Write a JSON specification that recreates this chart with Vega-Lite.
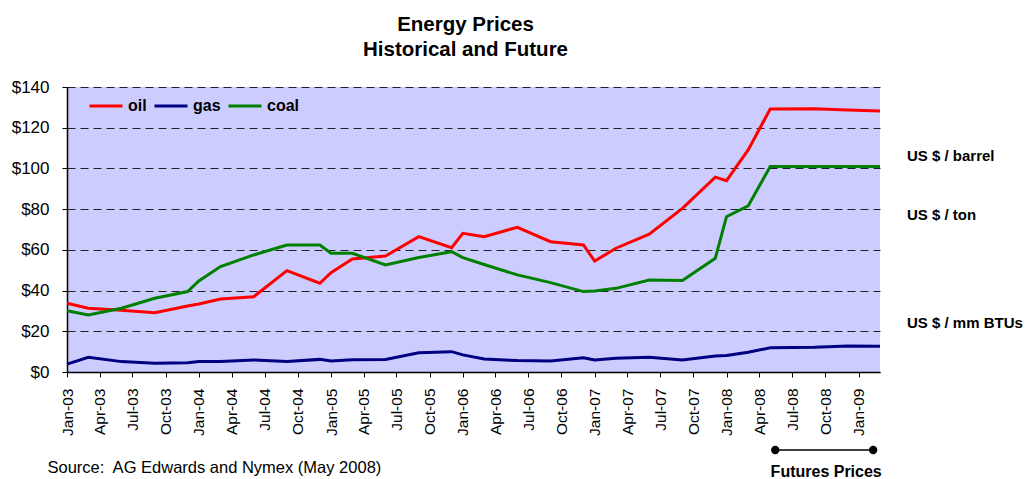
{
  "$schema": "https://vega.github.io/schema/vega-lite/v6.json",
  "width": 813,
  "height": 285,
  "autosize": {"type": "none"},
  "padding": {"left": 67, "top": 87, "right": 148, "bottom": 107},
  "background": "white",
  "config": {
    "font": "Liberation Sans",
    "view": {"fill": "#CCCCFF", "stroke": null}
  },
  "title": {
    "text": ["Energy Prices", "Historical and Future"],
    "font": "Liberation Sans",
    "fontSize": 20.5,
    "fontWeight": "bold",
    "color": "black",
    "lineHeight": 25,
    "anchor": "middle",
    "dx": -8,
    "offset": 18
  },
  "datasets": {
    "prices": [
      {"date": "2003-01-01", "series": "oil", "value": 33.8},
      {"date": "2003-03-01", "series": "oil", "value": 31.3},
      {"date": "2003-06-01", "series": "oil", "value": 30.3},
      {"date": "2003-09-01", "series": "oil", "value": 29.1},
      {"date": "2003-12-01", "series": "oil", "value": 32.4},
      {"date": "2004-01-01", "series": "oil", "value": 33.4},
      {"date": "2004-03-01", "series": "oil", "value": 35.9},
      {"date": "2004-06-01", "series": "oil", "value": 37.0},
      {"date": "2004-09-01", "series": "oil", "value": 49.8},
      {"date": "2004-12-01", "series": "oil", "value": 43.6},
      {"date": "2005-01-01", "series": "oil", "value": 48.8},
      {"date": "2005-03-01", "series": "oil", "value": 55.5},
      {"date": "2005-06-01", "series": "oil", "value": 57.0},
      {"date": "2005-09-01", "series": "oil", "value": 66.5},
      {"date": "2005-12-01", "series": "oil", "value": 61.1},
      {"date": "2006-01-01", "series": "oil", "value": 68.1},
      {"date": "2006-03-01", "series": "oil", "value": 66.5},
      {"date": "2006-06-01", "series": "oil", "value": 71.1},
      {"date": "2006-09-01", "series": "oil", "value": 64.0},
      {"date": "2006-12-01", "series": "oil", "value": 62.4},
      {"date": "2007-01-01", "series": "oil", "value": 54.5},
      {"date": "2007-03-01", "series": "oil", "value": 60.8},
      {"date": "2007-06-01", "series": "oil", "value": 67.7},
      {"date": "2007-09-01", "series": "oil", "value": 80.4},
      {"date": "2007-12-01", "series": "oil", "value": 95.7},
      {"date": "2008-01-01", "series": "oil", "value": 94.0},
      {"date": "2008-03-01", "series": "oil", "value": 109.1},
      {"date": "2008-05-01", "series": "oil", "value": 129.2},
      {"date": "2008-09-01", "series": "oil", "value": 129.3},
      {"date": "2008-12-01", "series": "oil", "value": 128.7},
      {"date": "2009-03-01", "series": "oil", "value": 128.2},
      {"date": "2003-01-01", "series": "gas", "value": 3.9},
      {"date": "2003-03-01", "series": "gas", "value": 7.2},
      {"date": "2003-06-01", "series": "gas", "value": 5.1},
      {"date": "2003-09-01", "series": "gas", "value": 4.3},
      {"date": "2003-12-01", "series": "gas", "value": 4.6},
      {"date": "2004-01-01", "series": "gas", "value": 5.1},
      {"date": "2004-03-01", "series": "gas", "value": 5.1},
      {"date": "2004-06-01", "series": "gas", "value": 5.9},
      {"date": "2004-09-01", "series": "gas", "value": 5.1},
      {"date": "2004-12-01", "series": "gas", "value": 6.2},
      {"date": "2005-01-01", "series": "gas", "value": 5.4},
      {"date": "2005-03-01", "series": "gas", "value": 6.0},
      {"date": "2005-06-01", "series": "gas", "value": 6.2},
      {"date": "2005-09-01", "series": "gas", "value": 9.5},
      {"date": "2005-12-01", "series": "gas", "value": 10.0},
      {"date": "2006-01-01", "series": "gas", "value": 8.4},
      {"date": "2006-03-01", "series": "gas", "value": 6.4},
      {"date": "2006-06-01", "series": "gas", "value": 5.6},
      {"date": "2006-09-01", "series": "gas", "value": 5.4},
      {"date": "2006-12-01", "series": "gas", "value": 7.0},
      {"date": "2007-01-01", "series": "gas", "value": 5.9},
      {"date": "2007-03-01", "series": "gas", "value": 6.7},
      {"date": "2007-06-01", "series": "gas", "value": 7.2},
      {"date": "2007-09-01", "series": "gas", "value": 5.9},
      {"date": "2007-12-01", "series": "gas", "value": 7.9},
      {"date": "2008-01-01", "series": "gas", "value": 8.1},
      {"date": "2008-03-01", "series": "gas", "value": 9.7},
      {"date": "2008-05-01", "series": "gas", "value": 11.9},
      {"date": "2008-09-01", "series": "gas", "value": 12.1},
      {"date": "2008-12-01", "series": "gas", "value": 12.8},
      {"date": "2009-03-01", "series": "gas", "value": 12.6},
      {"date": "2003-01-01", "series": "coal", "value": 30.1},
      {"date": "2003-03-01", "series": "coal", "value": 28.0},
      {"date": "2003-06-01", "series": "coal", "value": 31.3},
      {"date": "2003-09-01", "series": "coal", "value": 36.2},
      {"date": "2003-12-01", "series": "coal", "value": 39.5},
      {"date": "2004-01-01", "series": "coal", "value": 44.7},
      {"date": "2004-03-01", "series": "coal", "value": 51.8},
      {"date": "2004-06-01", "series": "coal", "value": 57.5},
      {"date": "2004-09-01", "series": "coal", "value": 62.4},
      {"date": "2004-12-01", "series": "coal", "value": 62.4},
      {"date": "2005-01-01", "series": "coal", "value": 58.3},
      {"date": "2005-03-01", "series": "coal", "value": 58.3},
      {"date": "2005-06-01", "series": "coal", "value": 52.6},
      {"date": "2005-09-01", "series": "coal", "value": 56.2},
      {"date": "2005-12-01", "series": "coal", "value": 59.1},
      {"date": "2006-01-01", "series": "coal", "value": 56.2},
      {"date": "2006-03-01", "series": "coal", "value": 52.8},
      {"date": "2006-06-01", "series": "coal", "value": 47.7},
      {"date": "2006-09-01", "series": "coal", "value": 43.9},
      {"date": "2006-12-01", "series": "coal", "value": 39.5},
      {"date": "2007-01-01", "series": "coal", "value": 39.8},
      {"date": "2007-03-01", "series": "coal", "value": 41.1},
      {"date": "2007-06-01", "series": "coal", "value": 45.2},
      {"date": "2007-09-01", "series": "coal", "value": 44.9},
      {"date": "2007-12-01", "series": "coal", "value": 55.9},
      {"date": "2008-01-01", "series": "coal", "value": 76.3},
      {"date": "2008-03-01", "series": "coal", "value": 81.6},
      {"date": "2008-05-01", "series": "coal", "value": 100.9},
      {"date": "2008-09-01", "series": "coal", "value": 100.9},
      {"date": "2008-12-01", "series": "coal", "value": 100.9},
      {"date": "2009-03-01", "series": "coal", "value": 100.9}
    ],
    "units": [
      {"date": "2009-03-01", "value": 106.1, "label": "US $ / barrel"},
      {"date": "2009-03-01", "value": 77.1, "label": "US $ / ton"},
      {"date": "2009-03-01", "value": 24.1, "label": "US $ / mm BTUs"}
    ],
    "futures": [
      {"date": "2008-05-15", "end": "2009-02-10", "value": -38.3}
    ],
    "futuresEnds": [
      {"date": "2008-05-15", "value": -38.3},
      {"date": "2009-02-10", "value": -38.3}
    ],
    "futuresLabel": [
      {"date": "2008-10-03", "value": -49.1, "label": "Futures Prices"}
    ]
  },
  "encoding": {
    "x": {
      "field": "date",
      "type": "temporal",
      "scale": {"type": "utc", "domain": ["2003-01-01", "2009-03-01"], "nice": false},
      "axis": {
        "title": "Source:\u00a0 AG Edwards and Nymex (May 2008)",
        "titleFont": "Liberation Sans",
        "titleFontSize": 16.5,
        "titleFontWeight": "normal",
        "titleColor": "black",
        "titleAlign": "left",
        "titleBaseline": "middle",
        "titleAnchor": "start",
        "titleX": -20,
        "titleY": 95,
        "labelExpr": "utcFormat(datum.value, '%b-%y')",
        "tickCount": {"interval": "month", "step": 3},
        "labelAngle": -90,
        "labelFont": "Liberation Sans",
        "labelFontSize": 15.5,
        "labelColor": "black",
        "labelPadding": 11,
        "labelOverlap": false,
        "labelFlush": false,
        "tickSize": 5,
        "tickColor": "black",
        "domainColor": "black",
        "domainWidth": 1.5,
        "grid": false
      }
    },
    "y": {
      "field": "value",
      "type": "quantitative",
      "scale": {"domain": [0, 140], "nice": false, "zero": true},
      "axis": {
        "title": null,
        "values": [0, 20, 40, 60, 80, 100, 120, 140],
        "format": "$.0f",
        "labelFont": "Liberation Sans",
        "labelFontSize": 17,
        "labelColor": "black",
        "labelPadding": 13,
        "tickSize": 5,
        "tickColor": "black",
        "domainColor": "black",
        "domainWidth": 1.5,
        "grid": true,
        "gridColor": "black",
        "gridWidth": 1,
        "gridDash": [8, 5],
        "gridOpacity": 0.85
      }
    }
  },
  "layer": [
    {
      "data": {"name": "prices"},
      "mark": {"type": "line", "strokeWidth": 3, "strokeJoin": "miter"},
      "encoding": {
        "color": {
          "field": "series",
          "type": "nominal",
          "scale": {"domain": ["oil", "gas", "coal"], "range": ["#FF0000", "#000080", "#008000"]},
          "legend": {
            "orient": "none",
            "legendX": 21,
            "legendY": 1,
            "direction": "horizontal",
            "title": null,
            "padding": 0,
            "symbolType": "stroke",
            "symbolSize": 1089,
            "symbolStrokeWidth": 3,
            "labelFont": "Liberation Sans",
            "labelFontSize": 16,
            "labelFontWeight": "bold",
            "labelColor": "black",
            "labelOffset": 4,
            "columnPadding": 1
          }
        }
      }
    },
    {
      "data": {"name": "units"},
      "mark": {"type": "text", "align": "left", "baseline": "middle", "dx": 27, "fontSize": 15, "fontWeight": "bold", "font": "Liberation Sans", "color": "black"},
      "encoding": {
        "text": {"field": "label"}
      }
    },
    {
      "data": {"name": "futures"},
      "mark": {"type": "rule", "color": "black", "strokeWidth": 1.5},
      "encoding": {
        "x2": {"field": "end"}
      }
    },
    {
      "data": {"name": "futuresEnds"},
      "mark": {"type": "circle", "color": "black", "size": 70, "opacity": 1},
      "encoding": {}
    },
    {
      "data": {"name": "futuresLabel"},
      "mark": {"type": "text", "align": "center", "baseline": "middle", "fontSize": 16, "fontWeight": "bold", "font": "Liberation Sans", "color": "black"},
      "encoding": {
        "text": {"field": "label"}
      }
    }
  ]
}
